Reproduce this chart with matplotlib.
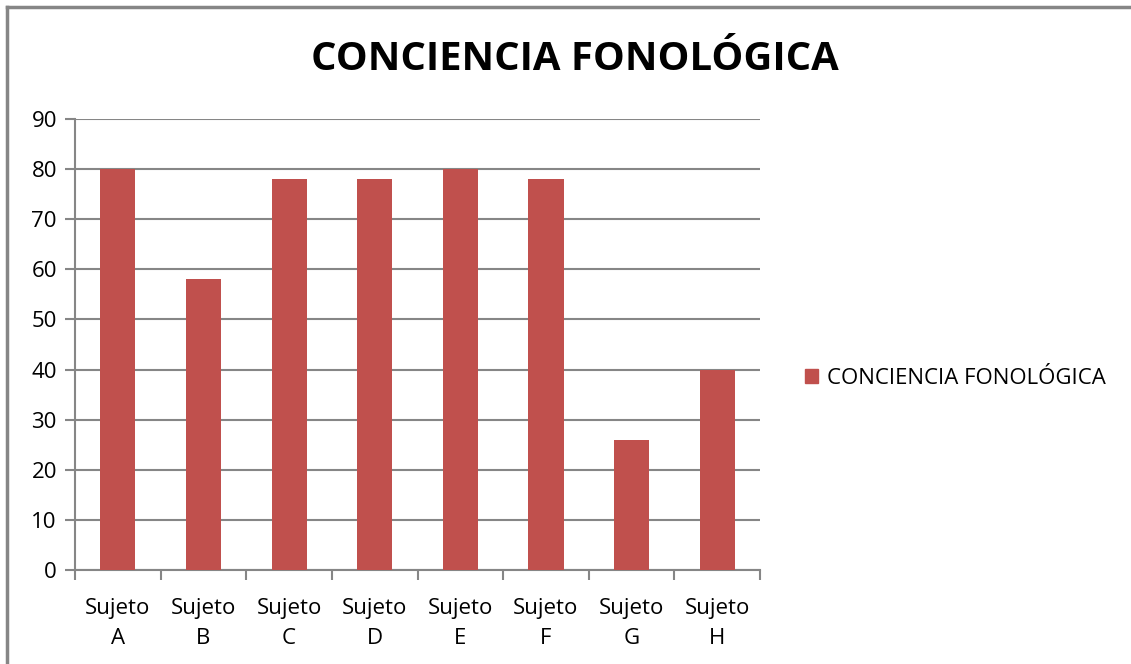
import matplotlib.pyplot as plt
import numpy as np
from matplotlib.lines import Line2D
from matplotlib.patches import Patch

# Datos del gráfico
sujetos = ['Sujeto\nA', 'Sujeto\nB', 'Sujeto\nC', 'Sujeto\nD',
           'Sujeto\nE', 'Sujeto\nF', 'Sujeto\nG', 'Sujeto\nH']
puntajes = [80, 58, 78, 78, 80, 78, 26, 40]
serie = 'CONCIENCIA FONOLÓGICA'
titulo = 'CONCIENCIA FONOLÓGICA'

plt.rcParams['font.family'] = ['Open Sans', 'DejaVu Sans']
rojo = '#c0504d'
gris = '#868686'

fig = plt.figure(figsize=(11.31, 6.64), dpi=100)
ax = fig.add_axes([0.0663, 0.1416, 0.6057, 0.6792])

x = np.arange(len(sujetos))
ax.bar(x, puntajes, width=0.41, color=rojo, zorder=3)

ax.set_xlim(-0.5, len(sujetos) - 0.5)
ax.set_ylim(0, 90)
ax.set_yticks(range(0, 91, 10))
ax.yaxis.grid(True, color=gris, linewidth=1.5, zorder=0)
ax.set_xticks(x)
ax.set_xticklabels(sujetos, fontsize=16, linespacing=1.6)
ax.set_xticks(np.arange(-0.5, len(sujetos)), minor=True)
ax.tick_params(axis='x', which='major', length=0, pad=20)
ax.tick_params(axis='x', which='minor', length=7, width=1.5, color=gris)
ax.tick_params(axis='y', length=7, width=1.5, color=gris, labelsize=16, pad=6)

for lado in ['top', 'right']:
    ax.spines[lado].set_visible(False)
for lado in ['left', 'bottom']:
    ax.spines[lado].set_color(gris)
    ax.spines[lado].set_linewidth(1.5)

fig.suptitle(titulo, x=0.508, y=0.94, fontsize=28.8, fontweight='bold')

fig.legend(handles=[Patch(color=rojo, label=serie)], loc='center left',
           bbox_to_anchor=(0.694, 0.43), frameon=False, fontsize=16,
           handlelength=0.6, handleheight=0.6, handletextpad=0.4)

# Marco del área del gráfico (solo arriba e izquierda visibles)
fig.add_artist(Line2D([7 / 1131, 1], [1 - 7 / 664, 1 - 7 / 664],
                      transform=fig.transFigure, color=gris, linewidth=2.5))
fig.add_artist(Line2D([7 / 1131, 7 / 1131], [0, 1 - 7 / 664],
                      transform=fig.transFigure, color=gris, linewidth=2.5))

fig.savefig('out.png', dpi=100)
